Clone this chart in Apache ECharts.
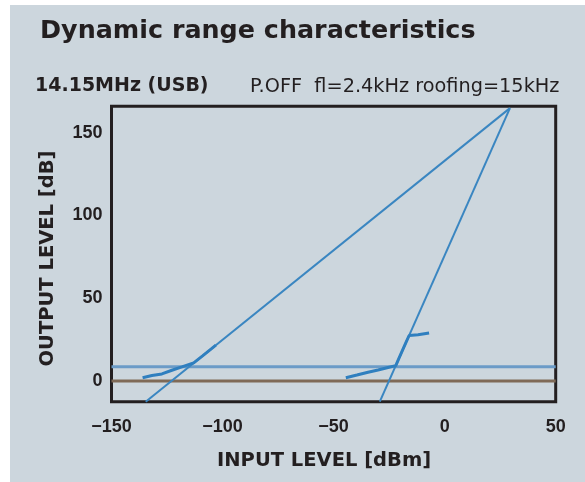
<!DOCTYPE html>
<html><head><meta charset="utf-8">
<script src="https://cdn.jsdelivr.net/npm/echarts@6/dist/echarts.min.js"></script>
<style>
html,body{margin:0;padding:0;background:#fff;}
#bg{position:absolute;left:10px;top:5px;width:575px;height:477px;background:#ccd6dd;}
#c{position:absolute;left:0;top:0;width:585px;height:482px;}
</style>
</head><body>
<div id="bg"></div>
<div id="c"></div>
<script>
const titleText = 'Dynamic range characteristics';
const subLeft = '14.15MHz (USB)';
const subRight = 'P.OFF  fl=2.4kHz roofing=15kHz';
const xName = 'INPUT LEVEL [dBm]';
const yName = 'OUTPUT LEVEL [dB]';
const xTicks = [-150, -100, -50, 0, 50];
const yTicks = [0, 50, 100, 150];
const noiseLevel = [[-150, 8.6], [50, 8.6]];
const zeroLevel = [[-150, 0], [50, 0]];
const fundamentalLine = [[-134.6, -12.5], [29.4, 164.9]];
const im3Line = [[-29.2, -12.5], [29.4, 164.9]];
const fundamentalMeasured = [[-136, 2.0], [-131.8, 3.3], [-127.3, 4.3], [-122.8, 6.5], [-118.3, 8.5], [-113, 11], [-109, 15.2], [-105.5, 19], [-103, 21.7]];
const im3Measured = [[-44.5, 2.0], [-39.5, 3.6], [-34.5, 5.3], [-30, 6.7], [-25.5, 8.2], [-22, 9.3], [-20.5, 14], [-19, 18.5], [-17.5, 23], [-16, 27.5], [-12, 28], [-7, 29]];

const ink = '#231f20';
const lineBlue = '#3a86c1';
const chart = echarts.init(document.getElementById('c'), null, {renderer: 'canvas'});
const lineSeries = (data, color, width, z) => ({
  type: 'line', data, showSymbol: false, silent: true, animation: false, z,
  lineStyle: {color, width}, clip: true
});
chart.setOption({
  animation: false,
  backgroundColor: 'transparent',
  title: [
    {text: titleText, left: 40, top: 18.5, padding: 0,
     textStyle: {fontFamily: 'DejaVu Sans', fontWeight: 'bold', fontSize: 25.4, color: ink}},
    {text: subLeft, left: 35, top: 77, padding: 0,
     textStyle: {fontFamily: 'DejaVu Sans', fontWeight: 'bold', fontSize: 19, color: ink}},
    {text: subRight, left: 250, top: 77.5, padding: 0,
     textStyle: {fontFamily: 'DejaVu Sans', fontWeight: 'normal', fontSize: 19.3, color: ink}}
  ],
  grid: {left: 111.5, right: 29.3, top: 106.3, bottom: 80.3, show: true,
         borderColor: ink, borderWidth: 3, backgroundColor: 'transparent'},
  xAxis: {
    type: 'value', min: xTicks[0], max: xTicks[xTicks.length - 1], interval: 50,
    axisLine: {show: false}, axisTick: {show: false}, splitLine: {show: false},
    axisLabel: {margin: 16, fontFamily: 'Liberation Sans', fontWeight: 'bold', fontSize: 18, color: ink,
      formatter: v => String(v).replace('-', '\u2212')},
    name: xName, nameLocation: 'middle', nameGap: 49,
    nameTextStyle: {fontFamily: 'DejaVu Sans', fontWeight: 'bold', fontSize: 19.5, color: ink, padding: [0, 19, 0, 0]}
  },
  yAxis: {
    type: 'value', min: -12.5, max: 166,
    axisLine: {show: false}, axisTick: {show: false}, splitLine: {show: false},
    axisLabel: {customValues: yTicks, margin: 9, fontFamily: 'Liberation Sans', fontWeight: 'bold', fontSize: 18, color: ink},
    name: yName, nameLocation: 'middle', nameGap: 54,
    nameTextStyle: {fontFamily: 'DejaVu Sans', fontWeight: 'bold', fontSize: 19.5, color: ink, padding: [0, 9, 0, 0]}
  },
  series: [
    lineSeries(zeroLevel, '#7f6a57', 3, 2),
    lineSeries(noiseLevel, '#6b9bc7', 3, 3),
    lineSeries(fundamentalLine, lineBlue, 2, 4),
    lineSeries(im3Line, lineBlue, 2, 4),
    lineSeries(fundamentalMeasured, '#2f7fbf', 3, 5),
    lineSeries(im3Measured, '#2f7fbf', 3, 5)
  ]
});
</script>
</body></html>
